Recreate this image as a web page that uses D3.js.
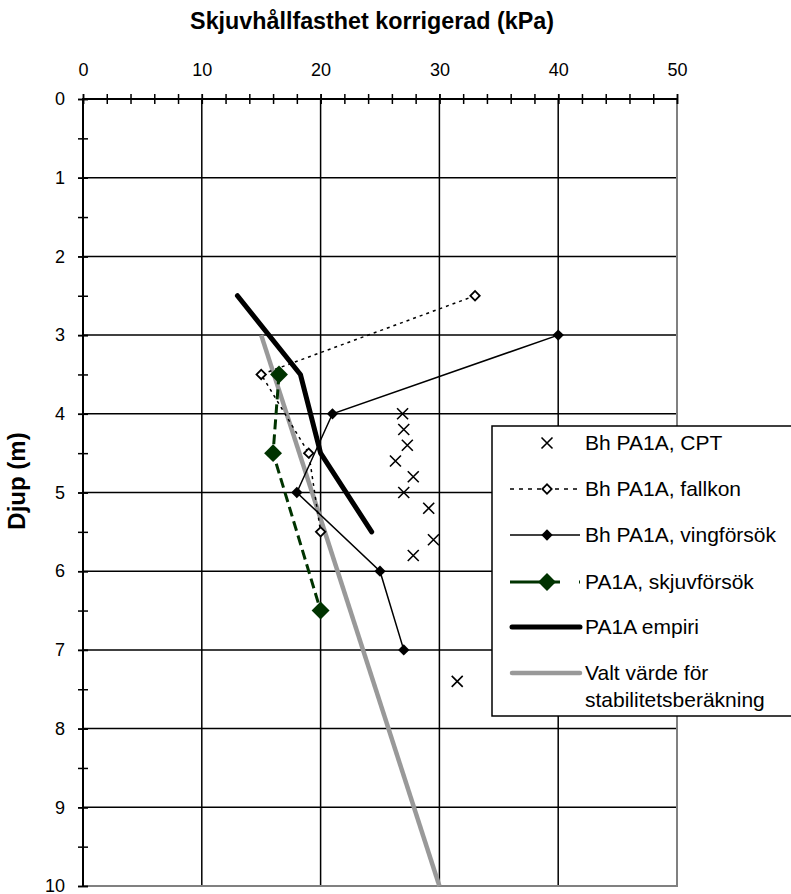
<!DOCTYPE html>
<html><head><meta charset="utf-8">
<script src="https://cdn.jsdelivr.net/npm/d3@7"></script>
<style>
body{margin:0;background:#fff}
text{font-family:"Liberation Sans",Arial,sans-serif;fill:#000}
</style>
</head><body>
<svg id="chart" width="791" height="894"></svg>
<script>
// Axis ticks
const xMajorTicks = [0, 10, 20, 30, 40, 50];
const xMinorTicks = [0, 2, 4, 6, 8, 10, 12, 14, 16, 18, 20, 22, 24, 26, 28, 30, 32, 34, 36, 38, 40, 42, 44, 46, 48, 50];
const yMajorTicks = [0, 1, 2, 3, 4, 5, 6, 7, 8, 9, 10];
const yMinorTicks = [0, 0.5, 1, 1.5, 2, 2.5, 3, 3.5, 4, 4.5, 5, 5.5, 6, 6.5, 7, 7.5, 8, 8.5, 9, 9.5, 10];

// Series: shear strength (kPa) vs depth (m)
const cptStrength = [26.9, 27.0, 27.3, 26.3, 27.8, 27.0, 29.1, 29.5, 27.8, 31.5];
const cptDepth    = [4.0, 4.2, 4.4, 4.6, 4.8, 5.0, 5.2, 5.6, 5.8, 7.4];
const fallkonStrength = [33, 15, 19, 20];
const fallkonDepth    = [2.5, 3.5, 4.5, 5.5];
const vingStrength = [40, 21, 18, 25, 27];
const vingDepth    = [3, 4, 5, 6, 7];
const skjuvStrength = [16.5, 16, 20];
const skjuvDepth    = [3.5, 4.5, 6.5];
const empiriStrength = [13, 18.3, 20, 24.3];
const empiriDepth    = [2.5, 3.5, 4.5, 5.5];
const valtStrength = [15, 30];
const valtDepth    = [3, 10];

const legendLabels = [
  ["Bh PA1A, CPT"],
  ["Bh PA1A, fallkon"],
  ["Bh PA1A, vingförsök"],
  ["PA1A, skjuvförsök"],
  ["PA1A empiri"],
  ["Valt värde för", "stabilitetsberäkning"]
];

const titleText = "Skjuvhållfasthet korrigerad (kPa)";
const yTitleText = "Djup (m)";

const svg = d3.select("#chart");
const pLeft = 83, pRight = 677, pTop = 99, pBottom = 886;
const x = d3.scaleLinear().domain([0, 50]).range([pLeft, pRight]);
const y = d3.scaleLinear().domain([0, 10]).range([pTop, pBottom]);

const zip = (a, b) => a.map((v, i) => [v, b[i]]);
const line = d3.line().x(d => x(d[0])).y(d => y(d[1]));

// gridlines
const grid = svg.append("g");
grid.selectAll("line.v").data(xMajorTicks).join("line").attr("class", "v")
  .attr("x1", d => x(d)).attr("x2", d => x(d))
  .attr("y1", pTop).attr("y2", pBottom)
  .attr("stroke", "#000").attr("stroke-width", 1.5);
grid.selectAll("line.h").data(yMajorTicks).join("line").attr("class", "h")
  .attr("x1", pLeft).attr("x2", pRight)
  .attr("y1", d => y(d)).attr("y2", d => y(d))
  .attr("stroke", "#000").attr("stroke-width", 1.5);

// plot border (right and bottom in gray)
svg.append("path")
  .attr("d", `M${pRight},${pTop}V${pBottom}H${pLeft}`)
  .attr("fill", "none").attr("stroke", "#808080").attr("stroke-width", 2);

// top axis with crossing tick marks
const xAxisMinor = svg.append("g").attr("transform", `translate(0,${pTop})`)
  .call(d3.axisTop(x).tickValues(xMinorTicks).tickSize(5).tickFormat(""));
const xAxisMajor = svg.append("g").attr("transform", `translate(0,${pTop})`)
  .call(d3.axisTop(x).tickValues(xMajorTicks).tickSize(5).tickPadding(18).tickFormat(d3.format("d")));
[xAxisMinor, xAxisMajor].forEach(g => {
  g.select(".domain").remove();
  g.selectAll(".tick line").attr("y1", 5).attr("stroke", "#000").attr("stroke-width", 1.5);
});
xAxisMajor.selectAll(".tick text").attr("font-size", 18).attr("fill", "#000")
  .style("font-family", '"Liberation Sans",Arial,sans-serif');
svg.append("line").attr("x1", pLeft - 1).attr("x2", pRight).attr("y1", pTop).attr("y2", pTop)
  .attr("stroke", "#000").attr("stroke-width", 2);

// left axis
const yAxisMinor = svg.append("g").attr("transform", `translate(${pLeft},0)`)
  .call(d3.axisLeft(y).tickValues(yMinorTicks).tickSize(5).tickFormat(""));
const yAxisMajor = svg.append("g").attr("transform", `translate(${pLeft},0)`)
  .call(d3.axisLeft(y).tickValues(yMajorTicks).tickSize(5).tickPadding(13).tickFormat(d3.format("d")));
[yAxisMinor, yAxisMajor].forEach(g => {
  g.select(".domain").remove();
  g.selectAll(".tick line").attr("x1", 5).attr("stroke", "#000").attr("stroke-width", 1.5);
});
yAxisMajor.selectAll(".tick text").attr("font-size", 18).attr("fill", "#000")
  .style("font-family", '"Liberation Sans",Arial,sans-serif');
// keep the bottom label inside the canvas
yAxisMajor.selectAll(".tick text").filter(d => d === 10).attr("dy", "0.28em");
svg.append("line").attr("x1", pLeft).attr("x2", pLeft).attr("y1", pTop - 1).attr("y2", pBottom)
  .attr("stroke", "#000").attr("stroke-width", 2);

// titles
svg.append("text").attr("x", 372).attr("y", 29).attr("text-anchor", "middle")
  .attr("font-size", 23.3).attr("font-weight", "bold").text(titleText);
svg.append("text").attr("transform", "translate(25,481) rotate(-90)")
  .attr("text-anchor", "middle").attr("font-size", 24).attr("font-weight", "bold").text(yTitleText);

// marker helpers
const diamond = (size) => d3.symbol().type(d3.symbolSquare).size(size)();
const crossPath = (r) => `M${-r},${-r}L${r},${r}M${-r},${r}L${r},${-r}`;

const plot = svg.append("g");

// chosen design line
plot.append("path").datum(zip(valtStrength, valtDepth)).attr("d", line)
  .attr("fill", "none").attr("stroke", "#999999").attr("stroke-width", 4.5);

// fall cone
plot.append("path").datum(zip(fallkonStrength, fallkonDepth)).attr("d", line)
  .attr("fill", "none").attr("stroke", "#000").attr("stroke-width", 1.5).attr("stroke-dasharray", "3,4");
plot.selectAll("path.fk").data(zip(fallkonStrength, fallkonDepth)).join("path")
  .attr("class", "fk").attr("d", diamond(44))
  .attr("transform", d => `translate(${x(d[0])},${y(d[1])}) rotate(45)`)
  .attr("fill", "#fff").attr("stroke", "#000").attr("stroke-width", 1.8);

// vane tests
plot.append("path").datum(zip(vingStrength, vingDepth)).attr("d", line)
  .attr("fill", "none").attr("stroke", "#000").attr("stroke-width", 1.5);
plot.selectAll("path.vt").data(zip(vingStrength, vingDepth)).join("path")
  .attr("class", "vt").attr("d", diamond(64))
  .attr("transform", d => `translate(${x(d[0])},${y(d[1])}) rotate(45)`)
  .attr("fill", "#000");

// CPT
plot.selectAll("path.cpt").data(zip(cptStrength, cptDepth)).join("path")
  .attr("class", "cpt").attr("d", crossPath(5.5))
  .attr("transform", d => `translate(${x(d[0])},${y(d[1])})`)
  .attr("fill", "none").attr("stroke", "#000").attr("stroke-width", 1.6);

// empirical
plot.append("path").datum(zip(empiriStrength, empiriDepth)).attr("d", line)
  .attr("fill", "none").attr("stroke", "#000").attr("stroke-width", 5)
  .attr("stroke-linecap", "round").attr("stroke-linejoin", "round");

// shear tests
plot.append("path").datum(zip(skjuvStrength, skjuvDepth)).attr("d", line)
  .attr("fill", "none").attr("stroke", "#003300").attr("stroke-width", 3).attr("stroke-dasharray", "10,5");
plot.selectAll("path.sk").data(zip(skjuvStrength, skjuvDepth)).join("path")
  .attr("class", "sk").attr("d", diamond(160))
  .attr("transform", d => `translate(${x(d[0])},${y(d[1])}) rotate(45)`)
  .attr("fill", "#003300");

// legend
const lg = svg.append("g");
lg.append("rect").attr("x", 492).attr("y", 426).attr("width", 310).attr("height", 290)
  .attr("fill", "#fff").attr("stroke", "#000").attr("stroke-width", 1.5);
const rowsY = [443, 489, 535, 582, 627, 673];
const sx0 = 510, sx1 = 580, smid = 547, tx = 585;

lg.append("path").attr("d", crossPath(5.5)).attr("transform", `translate(${smid},${rowsY[0]})`)
  .attr("stroke", "#000").attr("stroke-width", 1.6).attr("fill", "none");

lg.append("line").attr("x1", sx0).attr("x2", sx1).attr("y1", rowsY[1]).attr("y2", rowsY[1])
  .attr("stroke", "#000").attr("stroke-width", 1.5).attr("stroke-dasharray", "4,5");
lg.append("path").attr("d", diamond(44)).attr("transform", `translate(${smid},${rowsY[1]}) rotate(45)`)
  .attr("fill", "#fff").attr("stroke", "#000").attr("stroke-width", 1.8);

lg.append("line").attr("x1", sx0).attr("x2", sx1).attr("y1", rowsY[2]).attr("y2", rowsY[2])
  .attr("stroke", "#000").attr("stroke-width", 1.5);
lg.append("path").attr("d", diamond(64)).attr("transform", `translate(${smid},${rowsY[2]}) rotate(45)`)
  .attr("fill", "#000");

lg.append("line").attr("x1", sx0).attr("x2", sx1).attr("y1", rowsY[3]).attr("y2", rowsY[3])
  .attr("stroke", "#003300").attr("stroke-width", 3).attr("stroke-dasharray", "35,5,10,19,2");
lg.append("path").attr("d", diamond(160)).attr("transform", `translate(${smid},${rowsY[3]}) rotate(45)`)
  .attr("fill", "#003300");

lg.append("line").attr("x1", sx0 + 2).attr("x2", sx1).attr("y1", rowsY[4]).attr("y2", rowsY[4])
  .attr("stroke", "#000").attr("stroke-width", 5).attr("stroke-linecap", "round");
lg.append("line").attr("x1", sx0 + 2).attr("x2", sx1).attr("y1", rowsY[5]).attr("y2", rowsY[5])
  .attr("stroke", "#999999").attr("stroke-width", 4.5).attr("stroke-linecap", "round");

legendLabels.forEach((lines, i) => {
  const t = lg.append("text").attr("x", tx).attr("y", rowsY[i]).attr("font-size", 21);
  lines.forEach((s, j) => {
    t.append("tspan").attr("x", tx).attr("dy", j === 0 ? "0.35em" : "1.25em").text(s);
  });
});
</script>
</body></html>
